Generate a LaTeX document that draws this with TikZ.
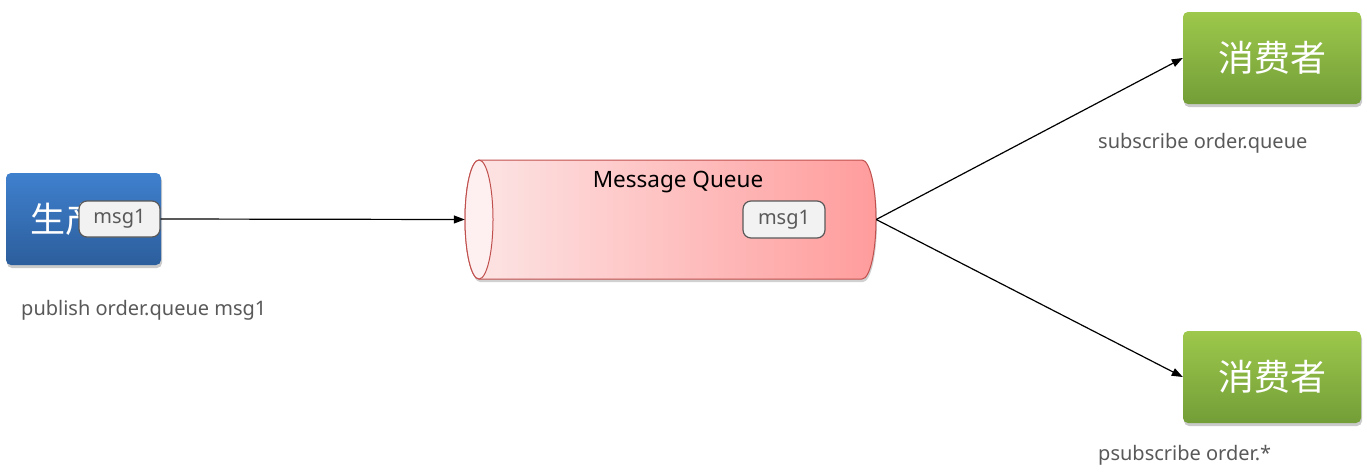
\documentclass[tikz,border=0pt]{standalone}
\usepackage{fontspec}
\setmainfont{Noto Sans}
\newfontfamily\cjk{Noto Sans CJK SC}
\usetikzlibrary{arrows.meta,shadows,shapes.geometric}
\definecolor{bluetop}{HTML}{3F80CE}
\definecolor{bluebot}{HTML}{2C5E9C}
\definecolor{greentop}{HTML}{9DC84B}
\definecolor{greenbot}{HTML}{739E38}
\definecolor{mqleft}{HTML}{FDE6E6}
\definecolor{mqright}{HTML}{FF9C9C}
\definecolor{mqedge}{HTML}{C0504D}
\definecolor{labelgray}{HTML}{595959}
\definecolor{bubblefill}{HTML}{F2F2F2}
\begin{document}
\begin{tikzpicture}[x=1pt,y=1pt,
  boxshadow/.style={drop shadow={shadow xshift=1pt,shadow yshift=-3pt,opacity=0.35,fill=black!60}},
  producer/.style={rounded corners=5pt,top color=bluetop,bottom color=bluebot,minimum width=155pt,minimum height=92pt,inner sep=0pt,boxshadow},
  consumer/.style={rounded corners=5pt,top color=greentop,bottom color=greenbot,minimum width=178pt,minimum height=92pt,inner sep=0pt,text=white,font=\cjk\fontsize{36}{42}\selectfont,boxshadow},
  bubble/.style={draw=labelgray,fill=bubblefill,rounded corners=8pt,line width=1.2pt,text=labelgray,font=\fontsize{20}{24}\selectfont,inner sep=0pt},
  lbl/.style={text=labelgray,font=\fontsize{20}{24}\selectfont,anchor=west,inner sep=0pt},
  conn/.style={draw=black,line width=1.2pt,-{Triangle[length=11pt,width=8pt]}}
]
\useasboundingbox (0,0) rectangle (1367,-474);
% producer
\node[producer] (prod) at (83.5,-219) {};
\node[text=white,font=\cjk\fontsize{35}{40}\selectfont,inner sep=0pt] (prodtxt) at (83,-219) {生产者};
\node[bubble,minimum width=81pt,minimum height=36pt] (pb) at (119.5,-219) {msg1};
\node[lbl] (plbl) at (21,-310) {publish order.queue msg1};
% message queue cylinder
\path[drop shadow={shadow xshift=1pt,shadow yshift=-3pt,opacity=0.3,fill=black!60}]
  (479,-160) -- (862,-160) arc[start angle=90,end angle=-90,x radius=14,y radius=59.5]
  -- (479,-279) arc[start angle=270,end angle=90,x radius=14,y radius=59.5] -- cycle;
\shade[left color=mqleft,right color=mqright]
  (479,-160) -- (862,-160) arc[start angle=90,end angle=-90,x radius=14,y radius=59.5]
  -- (479,-279) arc[start angle=270,end angle=90,x radius=14,y radius=59.5] -- cycle;
\draw[mqedge,line width=1pt]
  (479,-160) -- (862,-160) arc[start angle=90,end angle=-90,x radius=14,y radius=59.5]
  -- (479,-279) arc[start angle=270,end angle=90,x radius=14,y radius=59.5] -- cycle;
\draw[mqedge,line width=1pt,fill=mqleft!60!white] (479,-219.5) ellipse[x radius=14,y radius=59.5];
\node[minimum width=411pt,minimum height=119pt,inner sep=0pt] (mq) at (670.5,-219.5) {};
\node[font=\fontsize{22.5}{27}\selectfont,inner sep=0pt] (mqtitle) at (678,-182) {Message Queue};
\node[bubble,minimum width=82pt,minimum height=37pt] (qb) at (784,-219.5) {msg1};
% consumers
\node[consumer] (c1) at (1272,-58) {消费者};
\node[consumer] (c2) at (1272,-377) {消费者};
\node[lbl] (l1) at (1098,-143) {subscribe order.queue};
\node[lbl] (l2) at (1098,-455) {psubscribe order.*};
% connectors
\draw[conn] (pb.east) -- (mq.west);
\draw[conn] (mq.east) -- (c1.west);
\draw[conn] (mq.east) -- (c2.west);
\end{tikzpicture}
\end{document}
